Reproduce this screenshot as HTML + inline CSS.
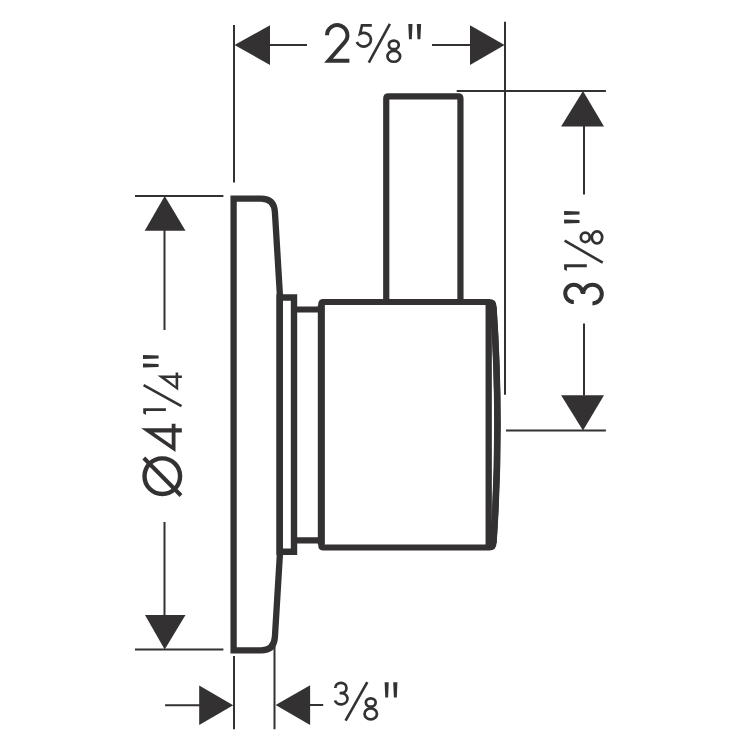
<!DOCTYPE html>
<html><head><meta charset="utf-8"><title>drawing</title>
<style>
html,body{margin:0;padding:0;background:#fff;width:750px;height:750px;overflow:hidden;font-family:"Liberation Sans",sans-serif;}
svg{display:block;}
</style></head>
<body>
<svg width="750" height="750" viewBox="0 0 750 750">
<rect width="750" height="750" fill="#fff"/>
<g fill="none" stroke="#333132">
  <!-- thin dimension / extension lines -->
  <g stroke-width="2">
    <path d="M234 25 V182.5 M505 21.7 V394.8"/>
    <path d="M270 45 H307 M432 45 H470"/>
    <path d="M456.7 91 H605.9 M506 430.5 H605.9"/>
    <path d="M584 126 V194.4 M584 323.5 V395.5"/>
    <path d="M135 196 H223.4 M135 649.6 H223.4"/>
    <path d="M164.5 230 V330.1 M164.5 522 V615.5"/>
    <path d="M234 656 V729.3 M274.5 646 V729.3"/>
    <path d="M165.1 705.2 H200 M309.5 705.1 H323.2"/>
  </g>
  <!-- escutcheon plate -->
  <path stroke-width="6.3" stroke-linejoin="miter" d="M233.6 650.4 V198.6 H261 Q274.1 198.6 274.9 212 L279.8 293 V556 L274.9 637 Q274.1 650.4 261 650.4 Z"/>
  <!-- flange -->
  <path stroke-width="6.4" d="M279.6 297.5 H294 V551.7 H279.6 Z"/>
  <!-- collar -->
  <path stroke-width="6.2" d="M294 309.5 H321.3 M294 540.3 H321.3"/>
  <!-- body -->
  <path stroke-width="6.2" d="M321.3 304.2 Q321.3 302 323.5 302 H489.2 Q493.4 302 493.4 306.2 Q501.5 425 493.4 543.3 Q493.4 547.5 489.2 547.5 H323.5 Q321.3 547.5 321.3 545.3 Z"/>
  <path stroke-width="7" d="M321.3 305 V544.5"/>
  <path stroke-width="6.6" d="M493.4 307 Q501.5 425 493.4 543"/>
  <path stroke-width="6.3" d="M488.7 303 V546"/>
  <!-- handle -->
  <path stroke-width="6.2" d="M386.25 300 V98.6 Q386.25 96.4 388.45 96.4 H458.25 Q460.45 96.4 460.45 98.6 V300"/>
</g>
<g fill="#333132">
  <!-- arrows -->
  <polygon points="234.5,45 270,25.3 270,64.9"/>
  <polygon points="504.6,45 470,25.3 470,65.1"/>
  <polygon points="583,90.9 561.1,126.4 604,126.4"/>
  <polygon points="583,430.5 561.1,395.3 604,395.3"/>
  <polygon points="164.7,196 144.7,230.8 185.5,230.8"/>
  <polygon points="164.7,649.6 145,615.1 185.5,615.1"/>
  <polygon points="233.2,705.2 199.2,685.4 199.2,725.1"/>
  <polygon points="275.6,705.1 310.1,685.3 310.1,725.1"/>
</g>
<!-- text: 2 5/8" -->
<g fill="none" stroke="#333132">
  <path stroke-width="4" stroke-miterlimit="10" d="M327 35.3 A10.2 10.2 0 1 1 344.54 42.39 L328.5 60.8 H349.4"/>
  <path stroke-width="2.7" d="M371.8 25.4 H362 L360 33.8 A7.3 6.9 0 1 1 356.83 42.08"/>
  <path stroke-width="2.6" d="M368.8 62.6 L389.9 23.9"/>
  <ellipse stroke-width="2.7" cx="393.8" cy="44.9" rx="4.95" ry="4.25"/>
  <ellipse stroke-width="2.7" cx="393.8" cy="56.3" rx="6.35" ry="5.45"/>
</g>
<g fill="#333132">
  <polygon points="408.3,23.9 412.5,23.9 411.8,39.3 409,39.3"/>
  <polygon points="416.8,23.9 421.1,23.9 420.4,39.3 417.5,39.3"/>
</g>
<!-- text: 3/8" -->
<g fill="none" stroke="#333132" stroke-width="2.7">
  <path d="M335.3 688 A5.6 5.2 0 1 1 340.9 693.2 H339.6 M341 693.05 A6.5 5.65 0 1 1 334.9 700.6"/>
  <path stroke-width="2.6" d="M345.6 720.6 L367.3 682.1"/>
  <ellipse cx="370.75" cy="702.5" rx="4.9" ry="4.2"/>
  <ellipse cx="370.75" cy="713.9" rx="6.2" ry="5.45"/>
</g>
<g fill="#333132">
  <polygon points="384.6,682.3 388.7,682.3 388.1,697.4 385.3,697.4"/>
  <polygon points="393.2,682.3 397.4,682.3 396.8,697.4 393.9,697.4"/>
</g>
<!-- text: 3 1/8" rotated -->
<g fill="none" stroke="#333132">
  <path stroke-width="4" d="M573.85 302 A8.65 8.65 0 1 1 582.5 293.35 M583.1 294.05 A9.35 9.35 0 1 1 592.45 303.4"/>
  <path stroke-width="2.6" d="M564.6 240.7 L602.7 262.6"/>
  <ellipse stroke-width="2.7" cx="585.3" cy="237.3" rx="4.5" ry="4.75"/>
  <ellipse stroke-width="2.7" cx="597" cy="237.35" rx="5.2" ry="6.0"/>
</g>
<g fill="#333132">
  <polygon points="564.1,264.3 586.8,264.3 586.8,267.2 566.9,267.2 566.9,271.1 564.1,269.4"/>
  <polygon points="564.1,211.1 579.5,211.6 579.5,214.6 564.1,215"/>
  <polygon points="564.1,219.5 579.5,220 579.5,223 564.1,223.5"/>
</g>
<!-- text: Ø4 1/4" rotated -->
<g fill="none" stroke="#333132">
  <circle stroke-width="4.4" cx="162.3" cy="476.2" r="17.8"/>
  <path stroke-width="4" d="M143.8 458 L181 495.5"/>
  <path stroke-width="2.6" d="M143.6 385.2 L181.5 406.2"/>
</g>
<g fill="#333132" fill-rule="evenodd">
  <path d="M141.2 428.2 H171.7 V423.8 H175.5 V428.2 H181.8 V432.6 H175.5 V452 Z M153.7 432.6 H171.7 V445 Z"/>
  <path d="M157.5 375.4 H175.6 V372.5 H178.2 V375.4 H181.9 V378.1 H178.2 V390.6 Z M165.5 378.1 H175.6 V386.1 Z"/>
  <polygon points="143.2,408.2 165.9,408.2 165.9,411.1 146,411.1 146,415 143.2,413.3"/>
  <polygon points="143,355.1 158.6,355.6 158.6,358.5 143,358.9"/>
  <polygon points="143,363.6 158.6,364.1 158.6,367 143,367.5"/>
</g>
</svg>
</body></html>
